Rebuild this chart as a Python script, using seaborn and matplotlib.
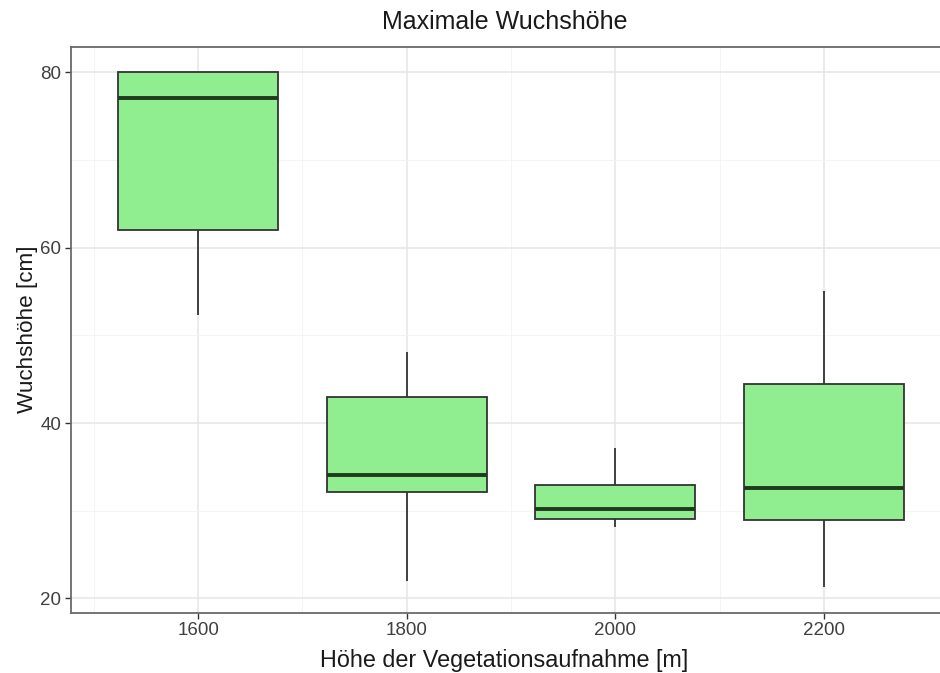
import numpy as np
import pandas as pd
import matplotlib
matplotlib.use("Agg")
import matplotlib.pyplot as plt
import seaborn as sns

# Five-number summaries of the maximum growth height per survey elevation
elevation = [1600, 1800, 2000, 2200]
whisker_low = [52.3, 22.0, 28.1, 21.3]
q1 = [62.0, 32.1, 29.0, 28.9]
median = [77.1, 34.1, 30.2, 32.6]
q3 = [80.0, 43.0, 32.9, 44.5]
whisker_high = [80.0, 48.1, 37.1, 55.1]

x_ticks = [1600, 1800, 2000, 2200]
y_ticks = [20, 40, 60, 80]

# Five observations per elevation reproduce exactly these quartiles and whisker ends
rows = []
for e, lo, a, m, b, hi in zip(elevation, whisker_low, q1, median, q3, whisker_high):
    for v in (lo, a, m, b, hi):
        rows.append({"elevation": e, "height": v})
df = pd.DataFrame(rows)

sns.set_theme(style="white")
plt.rcParams["font.family"] = ["Liberation Sans", "DejaVu Sans"]

fig = plt.figure(figsize=(9.40, 6.73), dpi=100)
W, H = 940, 673
# Panel runs past the right edge of the canvas
left, right, top, bottom = 71, 1100, 46.7, 612.7
px_per_unit = 880 / 844
x_lo = 1478
x_hi = x_lo + (right - left) / px_per_unit
ax = fig.add_axes([left / W, (H - bottom) / H, (right - left) / W, (bottom - top) / H])
ax.patch.set_edgecolor("none")

edge = "#333333"
sns.boxplot(
    data=df, x="elevation", y="height", native_scale=True,
    width=0.767, color="#90EE90", saturation=1, linecolor=edge,
    linewidth=1.3, whis=1.5, showfliers=False, showcaps=False,
    medianprops={"linewidth": 2.8, "color": "#1e3b1e"},
    ax=ax, zorder=3,
)

# ggplot-like limits with 5% expansion
lo_y, hi_y = min(whisker_low), max(whisker_high)
pad = (hi_y - lo_y) * 0.05
ax.set_ylim(lo_y - pad, hi_y + pad)
ax.set_xlim(x_lo, x_hi)

ax.set_xticks(x_ticks)
ax.set_xticklabels([str(t) for t in x_ticks])
ax.set_yticks(y_ticks)
ax.set_yticklabels([str(t) for t in y_ticks])
ax.set_xticks([1500, 1700, 1900, 2100], minor=True)
ax.set_yticks([30, 50, 70], minor=True)

ax.grid(True, which="major", color="#E6E6E6", linewidth=1.1, zorder=0)
ax.grid(True, which="minor", color="#F3F3F3", linewidth=0.6, zorder=0)
ax.set_axisbelow(True)

for name, s in ax.spines.items():
    s.set_visible(name != "right")
    s.set_color("#6a6a6a")
    s.set_linewidth(1.3)

ax.tick_params(axis="both", which="major", length=4, width=1.0, color="#333333",
               labelsize=13.5, labelcolor="#404040", pad=3, bottom=True, left=True)
ax.tick_params(axis="both", which="minor", length=0)

ax.set_xlabel("")
fig.text((71 + 938) / 2 / W, 1 - 660 / H, "Höhe der Vegetationsaufnahme [m]",
         fontsize=16.8, color="#1a1a1a", ha="center", va="center")
ax.set_ylabel("Wuchshöhe [cm]", fontsize=16.2, color="#1a1a1a", labelpad=2)
fig.text((71 + 938) / 2 / W, 1 - 22 / H, "Maximale Wuchshöhe", fontsize=18,
         color="#1a1a1a", ha="center", va="center")

fig.savefig("out.png", dpi=100, facecolor="white")
